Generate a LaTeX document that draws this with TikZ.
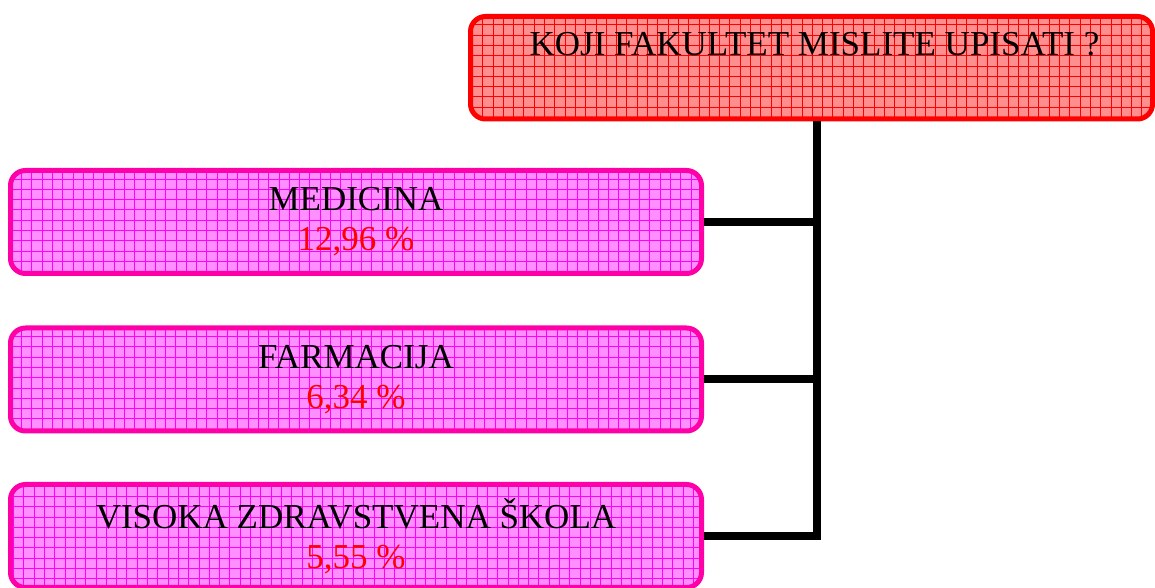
\documentclass[tikz,border=0pt]{standalone}
\usepackage{fontspec}
\setmainfont{Liberation Serif}
\usetikzlibrary{positioning}
\definecolor{RubRed}{rgb}{1,0,0}
\definecolor{FillRed}{rgb}{1,0.56,0.56}
\definecolor{RubPink}{rgb}{1,0,0.66}
\definecolor{FillPink}{rgb}{1,0.56,1}
\definecolor{MrezaPink}{rgb}{1,0,1}

\tikzset{
  mreza/.style={path picture={\draw[#1, line width=0.5pt, step=10.3pt]
      (path picture bounding box.south west) grid (path picture bounding box.north east);}},
  pitanjebox/.style={draw=RubRed, fill=FillRed, mreza=RubRed, line width=5pt,
      rounded corners=15pt, inner sep=0pt, minimum width=682pt,
      text height=39pt, text depth=63.5pt, anchor=north},
  odgovorbox/.style={draw=RubPink, fill=FillPink, mreza=MrezaPink, line width=5pt,
      rounded corners=15pt, inner sep=0pt, minimum width=691pt, minimum height=103pt,
      align=center},
  veza/.style={line width=8pt}
}

\begin{document}
\begin{tikzpicture}[x=1pt, y=1pt, font=\fontsize{35}{40}\selectfont]
    \useasboundingbox (0,0) rectangle (1155,588);
    %%Pitanje
    \node[pitanjebox] (pitanje) at (811.5,574) {\hspace*{6pt}KOJI FAKULTET MISLITE UPISATI ?};
    %%Odgovori
    \node[odgovorbox] (medicina) at (356,366) {MEDICINA\\{\color{red}12,96 \%}};
    \node[odgovorbox] (farmacija) at (356,208.5) {FARMACIJA\\{\color{red}6,34 \%}};
    \node[odgovorbox] (visoka) at (356,52) {VISOKA ZDRAVSTVENA ŠKOLA\\{\color{red}5,55 \%}};
    %%Veze
    \coordinate (kraj) at (817,52);
    \draw[veza] (pitanje.south -| kraj) -- (kraj) -- (visoka.east);
    \draw[veza] (medicina.east) -- (medicina.east -| kraj);
    \draw[veza] (farmacija.east) -- (farmacija.east -| kraj);
\end{tikzpicture}
\end{document}
